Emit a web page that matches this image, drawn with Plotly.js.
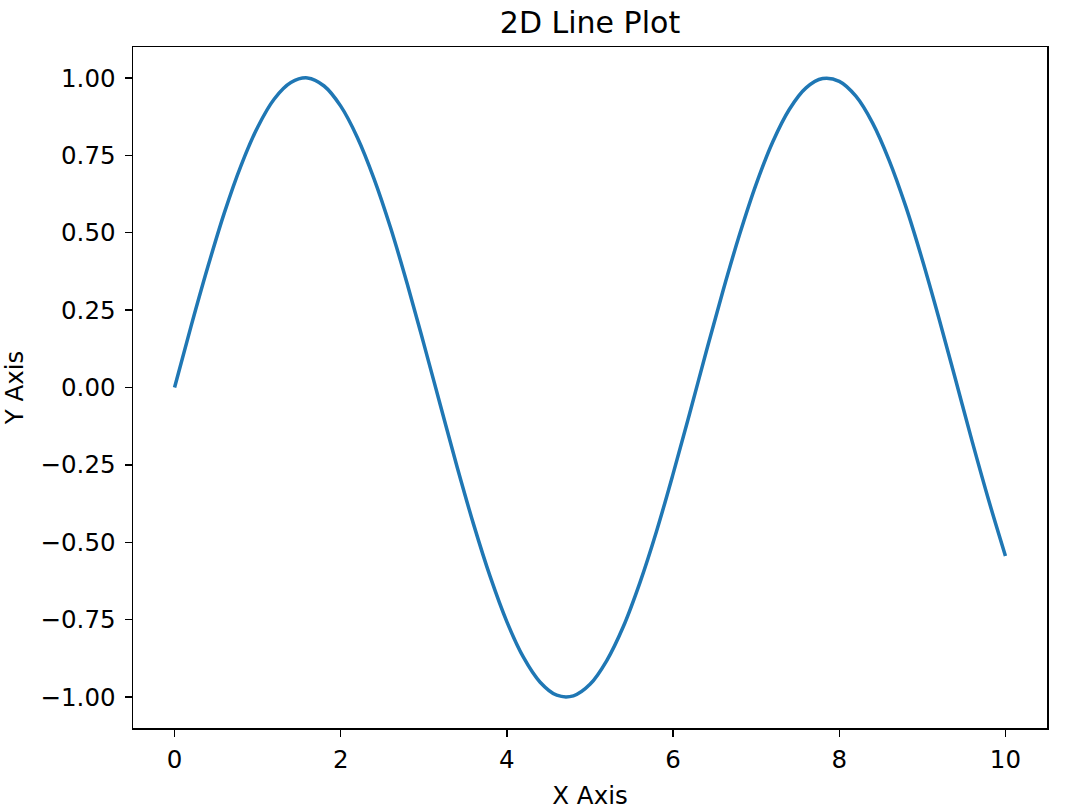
<!DOCTYPE html>
<html>
<head>
<meta charset="utf-8">
<script src="https://cdn.plot.ly/plotly-3.0.1.min.js"></script>
<style>html,body{margin:0;padding:0;background:#fff;}#chart{width:1066px;height:811px;}</style>
</head>
<body>
<div id="chart"></div>
<script>
const xValues = [0.0,0.2,0.4,0.6,0.8,1.0,1.2,1.4,1.6,1.8,2.0,2.2,2.4,2.6,2.8,3.0,3.2,3.4,3.6,3.8,4.0,4.2,4.4,4.6,4.8,5.0,5.2,5.4,5.6,5.8,6.0,6.2,6.4,6.6,6.8,7.0,7.2,7.4,7.6,7.8,8.0,8.2,8.4,8.6,8.8,9.0,9.2,9.4,9.6,9.8,10.0];
const yValues = [0.000,0.199,0.389,0.565,0.717,0.841,0.932,0.985,1.000,0.974,0.909,0.808,0.675,0.516,0.335,0.141,-0.058,-0.256,-0.443,-0.612,-0.757,-0.872,-0.952,-0.994,-0.996,-0.959,-0.883,-0.773,-0.631,-0.465,-0.279,-0.083,0.117,0.312,0.494,0.657,0.794,0.899,0.968,0.998,0.989,0.941,0.855,0.734,0.585,0.412,0.223,0.025,-0.175,-0.366,-0.544];
const xTicks = [0,2,4,6,8,10];
const yTicks = [-1.00,-0.75,-0.50,-0.25,0.00,0.25,0.50,0.75,1.00];

const font = {family: 'DejaVu Sans', size: 24.5, color: '#000'};
const trace = {
  x: xValues, y: yValues, type: 'scatter', mode: 'lines',
  line: {color: '#1f77b4', width: 3.5, shape: 'spline', smoothing: 1},
  hoverinfo: 'skip'
};
const axisCommon = {
  showgrid: false, zeroline: false, showline: true, mirror: true,
  linecolor: '#000', linewidth: 1.5, ticks: 'outside', ticklen: 7,
  tickwidth: 1.5, tickcolor: '#000', tickfont: font, automargin: false
};
const layout = {
  width: 1066, height: 811,
  margin: {l: 133, r: 19, t: 47, b: 83},
  paper_bgcolor: '#fff', plot_bgcolor: '#fff',
  showlegend: false,
  font: font,
  title: {text: '2D Line Plot', font: {family: 'DejaVu Sans', size: 30, color: '#000'},
          x: 0.5, xref: 'paper', y: 1 - 22/811, yref: 'container', yanchor: 'middle'},
  xaxis: Object.assign({}, axisCommon, {
    range: [-0.5, 10.5], tickmode: 'array', tickvals: xTicks,
    ticktext: xTicks.map(String), ticklabelstandoff: 2,
    title: {text: 'X Axis', font: font, standoff: 14}
  }),
  yaxis: Object.assign({}, axisCommon, {
    range: [-1.1, 1.1], tickmode: 'array', tickvals: yTicks,
    ticktext: yTicks.map(v => (v < 0 ? '\u2212' : '') + Math.abs(v).toFixed(2)),
    ticklabelstandoff: 4,
    title: {text: 'Y Axis', font: font, standoff: 24}
  })
};
Plotly.newPlot('chart', [trace], layout, {displayModeBar: false, staticPlot: true});
</script>
</body>
</html>
